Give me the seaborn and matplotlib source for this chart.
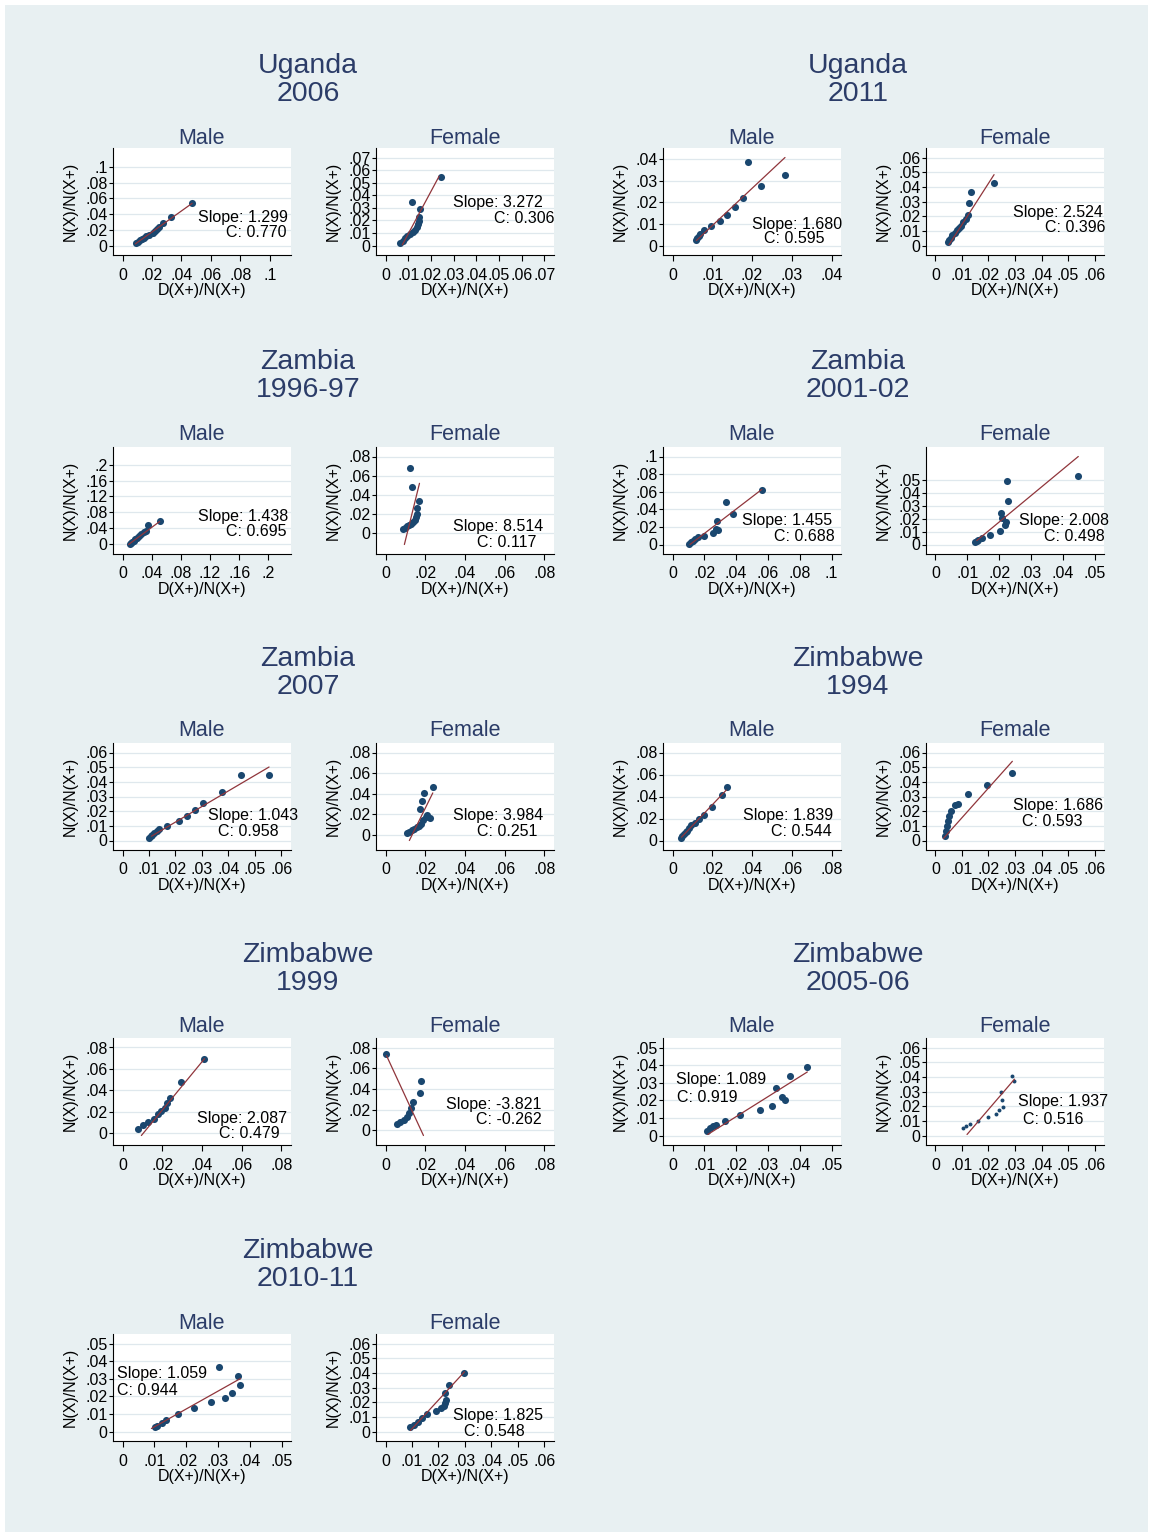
import numpy as np
import matplotlib.pyplot as plt
import seaborn as sns
from matplotlib.patches import Rectangle
from matplotlib.ticker import FuncFormatter

# ------------------------------------------------------------
# Data
# ------------------------------------------------------------
countries = ['Uganda', 'Uganda', 'Zambia', 'Zambia', 'Zambia',
             'Zimbabwe', 'Zimbabwe', 'Zimbabwe', 'Zimbabwe']
years = ['2006', '2011', '1996-97', '2001-02', '2007',
         '1994', '1999', '2005-06', '2010-11']
sexes = ['Male', 'Female']

# x = D(X+)/N(X+), y = N(X)/N(X+)
uga06_m_x = [.0094, .0103, .0116, .0130, .0144, .0162, .0180, .0208, .0224, .0235, .0249, .0274, .0331, .0473]
uga06_m_y = [.0033, .0050, .0066, .0083, .0099, .0124, .0136, .0165, .0182, .0207, .0231, .0289, .0368, .0545]
uga06_f_x = [.0066, .0075, .0085, .0096, .0108, .0119, .0128, .0137, .0144, .0147, .0147, .0152, .0115, .0245]
uga06_f_y = [.0021, .0039, .0058, .0073, .0089, .0105, .0123, .0144, .0170, .0197, .0223, .0288, .0349, .0543]
uga11_m_x = [.0058, .0062, .0066, .0070, .0078, .0098, .0119, .0138, .0158, .0177, .0191, .0222, .0283]
uga11_m_y = [.0027, .0037, .0046, .0053, .0073, .0092, .0115, .0140, .0180, .0220, .0389, .0278, .0327]
uga11_f_x = [.0048, .0052, .0058, .0064, .0072, .0080, .0087, .0095, .0105, .0115, .0123, .0128, .0134, .0219]
uga11_f_y = [.0023, .0037, .0054, .0070, .0086, .0103, .0117, .0135, .0159, .0180, .0210, .0292, .0367, .0425]
zam96_m_x = [.0097, .0115, .0133, .0152, .0175, .0198, .0225, .0253, .0290, .0326, .0349, .0510]
zam96_m_y = [.0000, .0025, .0050, .0074, .0116, .0149, .0198, .0240, .0306, .0331, .0471, .0579]
zam96_f_x = [.0086, .0098, .0110, .0120, .0130, .0140, .0147, .0152, .0156, .0157, .0171, .0132, .0123]
zam96_f_y = [.0035, .0049, .0066, .0083, .0094, .0111, .0136, .0163, .0195, .0257, .0334, .0483, .0682]
zam01_m_x = [.0106, .0117, .0129, .0144, .0159, .0201, .0254, .0275, .0282, .0286, .0339, .0381, .0561]
zam01_m_y = [.0011, .0026, .0045, .0064, .0082, .0101, .0131, .0180, .0262, .0169, .0479, .0345, .0614]
zam01_f_x = [.0125, .0130, .0135, .0146, .0172, .0204, .0206, .0208, .0220, .0223, .0225, .0228, .0449]
zam01_f_y = [.0021, .0026, .0033, .0051, .0077, .0108, .0249, .0205, .0149, .0179, .0495, .0341, .0531]
zam07_m_x = [.0101, .0107, .0113, .0120, .0130, .0138, .0169, .0212, .0242, .0275, .0304, .0374, .0447, .0553]
zam07_m_y = [.0020, .0029, .0038, .0051, .0066, .0077, .0099, .0130, .0170, .0210, .0254, .0329, .0446, .0448]
zam07_f_x = [.0110, .0120, .0132, .0144, .0157, .0171, .0179, .0191, .0205, .0211, .0222, .0174, .0184, .0196, .0238]
zam07_f_y = [.0016, .0029, .0045, .0058, .0074, .0086, .0102, .0138, .0176, .0192, .0160, .0246, .0326, .0406, .0464]
zim94_m_x = [.0042, .0050, .0058, .0067, .0075, .0083, .0095, .0112, .0132, .0159, .0199, .0250, .0276]
zim94_m_y = [.0021, .0044, .0059, .0074, .0089, .0110, .0139, .0163, .0193, .0231, .0305, .0415, .0489]
zim94_f_x = [.0037, .0041, .0045, .0048, .0052, .0060, .0075, .0086, .0123, .0194, .0287]
zim94_f_y = [.0028, .0062, .0097, .0131, .0166, .0200, .0241, .0248, .0317, .0379, .0462]
zim99_m_x = [.0078, .0101, .0128, .0156, .0179, .0196, .0212, .0223, .0240, .0296, .0408]
zim99_m_y = [.0042, .0073, .0104, .0135, .0177, .0208, .0239, .0281, .0333, .0478, .0696]
zim99_f_x = [.0000, .0060, .0075, .0091, .0106, .0116, .0126, .0136, .0176, .0181]
zim99_f_y = [.0741, .0059, .0078, .0098, .0127, .0166, .0215, .0273, .0361, .0478]
zim05_m_x = [.0108, .0117, .0127, .0136, .0165, .0212, .0275, .0313, .0326, .0345, .0354, .0370, .0424]
zim05_m_y = [.0028, .0044, .0056, .0061, .0083, .0117, .0144, .0167, .0272, .0217, .0200, .0339, .0389]
zim05_f_x = [.0104, .0116, .0130, .0160, .0198, .0227, .0239, .0246, .0250, .0253, .0287, .0298]
zim05_f_y = [.0049, .0063, .0077, .0098, .0126, .0147, .0174, .0300, .0244, .0195, .0405, .0370]
zim10_m_x = [.0101, .0110, .0123, .0138, .0173, .0226, .0277, .0321, .0343, .0362, .0371, .0302]
zim10_m_y = [.0023, .0034, .0051, .0068, .0102, .0131, .0165, .0193, .0216, .0318, .0267, .0369]
zim10_f_x = [.0094, .0106, .0121, .0136, .0158, .0189, .0208, .0219, .0226, .0230, .0226, .0238, .0298]
zim10_f_y = [.0028, .0041, .0062, .0090, .0117, .0138, .0159, .0172, .0193, .0214, .0262, .0317, .0400]

panel_x = [uga06_m_x, uga06_f_x, uga11_m_x, uga11_f_x, zam96_m_x, zam96_f_x,
           zam01_m_x, zam01_f_x, zam07_m_x, zam07_f_x, zim94_m_x, zim94_f_x,
           zim99_m_x, zim99_f_x, zim05_m_x, zim05_f_x, zim10_m_x, zim10_f_x]
panel_y = [uga06_m_y, uga06_f_y, uga11_m_y, uga11_f_y, zam96_m_y, zam96_f_y,
           zam01_m_y, zam01_f_y, zam07_m_y, zam07_f_y, zim94_m_y, zim94_f_y,
           zim99_m_y, zim99_f_y, zim05_m_y, zim05_f_y, zim10_m_y, zim10_f_y]

# fitted line end points, as drawn
fit_x0 = [.0087, .0074, .0060, .0051, .0083, .0095, .0110, .0130, .0109,
          .0120, .0045, .0030, .0095, .0005, .0111, .0119, .0091, .0094]
fit_x1 = [.0473, .0236, .0283, .0221, .0510, .0171, .0561, .0449, .0553,
          .0238, .0271, .0290, .0413, .0191, .0424, .0298, .0371, .0298]
fit_y0 = [.0020, .0005, .0023, .0005, -.0025, -.0125, .0000, .0031, .0029,
          -.0058, .0030, .0014, -.0021, .0722, .0006, .0007, .0017, .0007]
fit_y1 = [.0537, .0551, .0408, .0483, .0562, .0518, .0625, .0685, .0501,
          .0406, .0459, .0540, .0696, -.0049, .0361, .0384, .0301, .0407]

slopes = [1.299, 3.272, 1.680, 2.524, 1.438, 8.514, 1.455, 2.008, 1.043,
          3.984, 1.839, 1.686, 2.087, -3.821, 1.089, 1.937, 1.059, 1.825]
c_vals = [0.770, 0.306, 0.595, 0.396, 0.695, 0.117, 0.688, 0.498, 0.958,
          0.251, 0.544, 0.593, 0.479, -0.262, 0.919, 0.516, 0.944, 0.548]
tick_max = [.1, .07, .04, .06, .2, .08, .1, .05, .06, .08, .08, .06, .08, .08, .05, .06, .05, .06]
tick_step = [.02, .01, .01, .01, .04, .02, .02, .01, .01, .02, .02, .01, .02, .02, .01, .01, .01, .01]

# ------------------------------------------------------------
# Layout (pixels of the 1150x1535 canvas)
# ------------------------------------------------------------
W, H = 1150, 1535
col_left = [113, 376, 663, 926]
row_top = [148, 447, 743, 1038, 1334]
ax_w, ax_h = 178, 107
group_cx = [308, 858]
pitch = 296.3

# per panel: extra range (axis extends past last tick), annotation positions
x_ext = {0: .108, 4: .218}
y_ext = {0: .112, 4: .222}
text_pos = [(.476, .352, .633, .213), (.434, .488, .663, .343), (.502, .287, .569, .155),
            (.490, .395, .669, .256), (.476, .355, .633, .212), (.434, .255, .567, .105),
            (.442, .311, .625, .160), (.522, .311, .665, .160), (.532, .327, .588, .170),
            (.434, .327, .567, .177), (.448, .327, .607, .170), (.489, .415, .539, .264),
            (.472, .245, .596, .104), (.393, .377, .562, .236), (.073, .613, .079, .443),
            (.517, .406, .545, .236), (.022, .632, .022, .472), (.433, .236, .494, .085)]
marker_s = [26] * 18
marker_s[15] = 8

navy = '#1A476F'
maroon = '#90353B'
title_col = '#2B3C68'
grid_col = '#DFE8ED'
bg_col = '#E8F0F2'

sns.set_style('white')
plt.rcParams['font.family'] = ['Liberation Sans', 'DejaVu Sans']


def stata_fmt(v, pos=None):
    s = f'{v:.2f}'.rstrip('0').rstrip('.')
    if s.startswith('0.'):
        s = s[1:]
    return s


fig = plt.figure(figsize=(W / 100, H / 100), dpi=100, facecolor='white')
fig.patches.append(Rectangle((5 / W, 3 / H), 1143 / W, 1527 / H, transform=fig.transFigure,
                             facecolor=bg_col, edgecolor='none', zorder=-10))

for g in range(9):
    row, side = g // 2, g % 2
    cx = group_cx[side] / W
    fig.text(cx, 1 - (73 + pitch * row) / H, countries[g], ha='center', va='baseline',
             fontsize=20.5, color=title_col)
    fig.text(cx, 1 - (101 + pitch * row) / H, years[g], ha='center', va='baseline',
             fontsize=20.5, color=title_col)

    for s in range(2):
        i = 2 * g + s
        col = side * 2 + s
        left, top = col_left[col], row_top[row]
        ax = fig.add_axes([left / W, 1 - (top + ax_h) / H, ax_w / W, ax_h / H])
        ax.set_zorder(2)
        fig.text((left + ax_w / 2) / W, 1 - (143.5 + pitch * row) / H, sexes[s],
                 ha='center', va='baseline', fontsize=15.5, color=title_col)

        x = np.array(panel_x[i])
        y = np.array(panel_y[i])
        lx = np.array([fit_x0[i], fit_x1[i]])
        ly = np.array([fit_y0[i], fit_y1[i]])

        sns.scatterplot(x=x, y=y, ax=ax, color=navy, s=marker_s[i], linewidth=0, zorder=3)
        sns.lineplot(x=lx, y=ly, ax=ax, color=maroon, linewidth=0.9, zorder=4)

        ticks = np.round(np.arange(0, tick_max[i] + 1e-9, tick_step[i]), 4)
        xlo = min(0, x.min())
        xhi = max(tick_max[i], x.max(), x_ext.get(i, 0))
        ylo = min(0, y.min(), ly.min())
        yhi = max(tick_max[i], y.max(), ly.max(), y_ext.get(i, 0))
        xr, yr = xhi - xlo, yhi - ylo
        ax.set_xlim(xlo - xr * 9.5 / 159, xhi + xr * 9.5 / 159)
        ax.set_ylim(ylo - yr * 9.5 / 88, yhi + yr * 9.5 / 88)
        ax.set_xticks(ticks)
        ax.set_yticks(ticks)
        ax.xaxis.set_major_formatter(FuncFormatter(stata_fmt))
        ax.yaxis.set_major_formatter(FuncFormatter(stata_fmt))
        ax.tick_params(axis='x', direction='out', length=4, width=0.8, pad=5,
                       labelsize=11.5, colors='black', bottom=True)
        ax.tick_params(axis='y', direction='out', length=3, width=0.8, pad=1,
                       labelsize=11.5, colors='black', left=True)

        ax.set_facecolor('white')
        ax.grid(axis='y', color=grid_col, linewidth=0.9)
        ax.grid(axis='x', visible=False)
        ax.set_axisbelow(True)
        for sp in ['top', 'right']:
            ax.spines[sp].set_visible(False)
        for sp in ['left', 'bottom']:
            ax.spines[sp].set_color('black')
            ax.spines[sp].set_linewidth(0.8)

        ax.set_xlabel('D(X+)/N(X+)', fontsize=11.5, color='black')
        ax.set_ylabel('N(X)/N(X+)', fontsize=11.5, color='black')
        ax.xaxis.label.set_va('center')
        ax.yaxis.label.set_va('center')
        ax.xaxis.set_label_coords(0.5, -0.335)
        ax.yaxis.set_label_coords(-0.242, 0.5)

        tx1, ty1, tx2, ty2 = text_pos[i]
        ax.text(tx1, ty1, f'Slope: {slopes[i]:.3f}', transform=ax.transAxes,
                ha='left', va='center', fontsize=11.5, color='black', zorder=5)
        ax.text(tx2, ty2, f'C: {c_vals[i]:.3f}', transform=ax.transAxes,
                ha='left', va='center', fontsize=11.5, color='black', zorder=5)

fig.savefig('out.png', dpi=100, facecolor='white')
